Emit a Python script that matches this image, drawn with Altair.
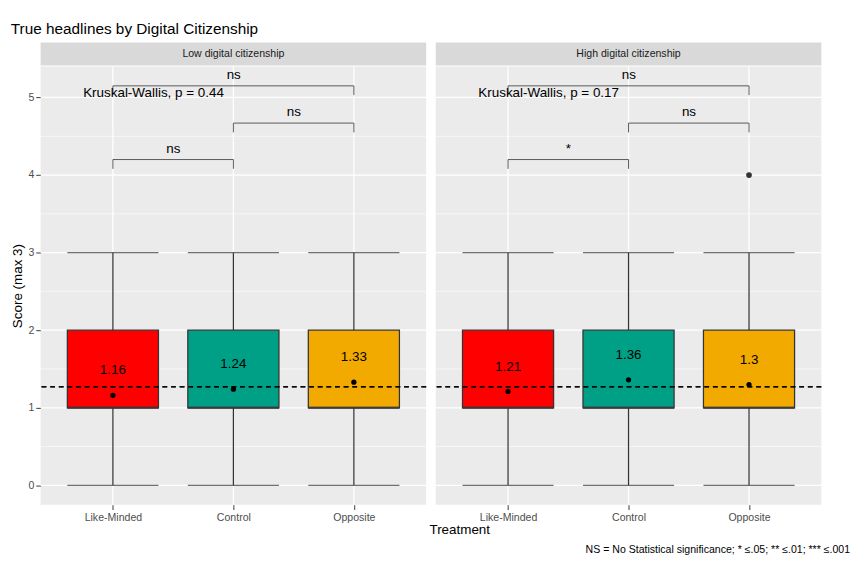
import altair as alt
import pandas as pd

treatments = ["Like-Minded", "Control", "Opposite"]
colors = ["#FF0000", "#00A087", "#F2AA00"]
panels = ["Low digital citizenship", "High digital citizenship"]
means = {"Low digital citizenship": [1.16, 1.24, 1.33],
         "High digital citizenship": [1.21, 1.36, 1.3]}
label_y = {"Low digital citizenship": [1.48, 1.56, 1.65],
           "High digital citizenship": [1.53, 1.68, 1.62]}
q1, med, q3, lo, hi = 1, 1, 2, 0, 3
outliers = {"Low digital citizenship": [], "High digital citizenship": [("Opposite", 4)]}
kw_p = {"Low digital citizenship": "0.44", "High digital citizenship": "0.17"}
brackets_from = ["Like-Minded", "Control", "Like-Minded"]
brackets_to = ["Control", "Opposite", "Opposite"]
brackets_y = [4.2, 4.67, 5.15]
bracket_labels = {"Low digital citizenship": ["ns", "ns", "ns"],
                  "High digital citizenship": ["*", "ns", "ns"]}
overall_mean = 1.27

FONT = "Liberation Sans"
W, H = 402, 457
xsc = alt.Scale(type="point", domain=treatments, padding=0.6)
ysc = alt.Scale(domain=[-0.25, 5.4], nice=False, zero=False)
PANEL_VIEW = alt.ViewConfig(fill="#EBEBEB", stroke=None)


def panel(name, first):
    d = pd.DataFrame({"t": treatments, "color": colors, "q1": q1, "med": med, "q3": q3,
                      "lo": lo, "hi": hi, "mean": means[name], "ly": label_y[name]})
    yaxis = alt.Axis(values=[0, 1, 2, 3, 4, 5], format="d", grid=False, domain=False, tickColor="#333",
                     labelColor="#4d4d4d", labelFontSize=11, title="Score (max 3)" if first else None,
                     titleFontSize=14, titleFontWeight="normal", titleColor="black",
                     labels=first, ticks=first)
    xaxis = alt.Axis(grid=False, domain=False, tickColor="#333",
                     labelColor="#4d4d4d", labelFontSize=11, labelAngle=0, title=None)
    base = alt.Chart(d)
    X = alt.X("t:N", scale=xsc, axis=xaxis, sort=treatments)

    grid = pd.DataFrame({"g": [i * 0.5 for i in range(11)]})
    grid["w"] = [1.3 if i % 2 == 0 else 0.6 for i in range(11)]
    gl = alt.Chart(grid).mark_rule(color="white").encode(
        y=alt.Y("g:Q", scale=ysc, axis=yaxis), strokeWidth=alt.StrokeWidth("w:Q", scale=None))
    vg = base.mark_rule(color="white", strokeWidth=1.3).encode(x=X)

    wl = base.mark_rule(color="#333", strokeWidth=1.3).encode(x=X, y=alt.Y("lo:Q", scale=ysc), y2="q1")
    wh = base.mark_rule(color="#333", strokeWidth=1.3).encode(x=X, y=alt.Y("q3:Q", scale=ysc), y2="hi")
    caps = alt.layer(
        base.mark_tick(orient="horizontal", size=95, thickness=1.3, color="#333").encode(x=X, y=alt.Y("lo:Q", scale=ysc)),
        base.mark_tick(orient="horizontal", size=95, thickness=1.3, color="#333").encode(x=X, y=alt.Y("hi:Q", scale=ysc)),
    )
    box = base.mark_bar(size=95, stroke="#333", strokeWidth=1.3).encode(
        x=X, y=alt.Y("q1:Q", scale=ysc), y2="q3", color=alt.Color("color:N", scale=None))
    medl = base.mark_tick(orient="horizontal", size=95, thickness=2.5, color="#333").encode(
        x=X, y=alt.Y("med:Q", scale=ysc))
    mpt = base.mark_circle(size=30, color="black", opacity=1).encode(x=X, y=alt.Y("mean:Q", scale=ysc))
    mtx = base.mark_text(fontSize=14, font=FONT, color="black").encode(
        x=X, y=alt.Y("ly:Q", scale=ysc), text=alt.Text("mean:Q"))
    hline = base.mark_rule(strokeDash=[5, 4], color="black", strokeWidth=1).encode(
        y=alt.datum(overall_mean, scale=ysc))

    layers = [gl, vg, wl, wh, caps, box, medl, mpt, mtx, hline]
    if outliers[name]:
        od = pd.DataFrame(outliers[name], columns=["t", "v"])
        layers.append(alt.Chart(od).mark_circle(size=35, color="#333", opacity=1).encode(
            x=alt.X("t:N", scale=xsc, sort=treatments), y=alt.Y("v:Q", scale=ysc)))

    bd = pd.DataFrame({"a": brackets_from, "b": brackets_to, "y": brackets_y,
                       "lab": bracket_labels[name]})
    bd["y0"] = bd["y"] - 0.12
    bd["mid"] = bd["y"] + 0.14
    bb = alt.Chart(bd)
    layers += [
        bb.mark_rule(color="#555").encode(x=alt.X("a:N", scale=xsc), x2="b:N", y=alt.Y("y:Q", scale=ysc)),
        bb.mark_rule(color="#555").encode(x=alt.X("a:N", scale=xsc), y=alt.Y("y0:Q", scale=ysc), y2="y"),
        bb.mark_rule(color="#555").encode(x=alt.X("b:N", scale=xsc), y=alt.Y("y0:Q", scale=ysc), y2="y"),
    ]
    # label sits at the middle of each bracket: half the span, in pixels
    for i, dx in enumerate([63, 63, 126]):
        layers.append(alt.Chart(bd.iloc[[i]]).mark_text(fontSize=14, font=FONT, color="black", dx=dx).encode(
            x=alt.X("a:N", scale=xsc), y=alt.Y("mid:Q", scale=ysc), text="lab:N"))
    kd = pd.DataFrame({"t": ["Like-Minded"], "y": [5.05], "lab": ["Kruskal-Wallis, p = " + kw_p[name]]})
    layers.append(alt.Chart(kd).mark_text(fontSize=14, font=FONT, color="black", align="left", dx=-31).encode(
        x=alt.X("t:N", scale=xsc), y=alt.Y("y:Q", scale=ysc), text="lab:N"))

    body = alt.layer(*layers).properties(width=W, height=H, view=PANEL_VIEW)
    strip = alt.Chart(pd.DataFrame({"p": [name]})).mark_text(fontSize=11, font=FONT, color="#1a1a1a").encode(
        text="p:N").properties(width=W, height=24, view=alt.ViewConfig(fill="#D9D9D9", stroke=None))
    return alt.vconcat(strip, body, spacing=0)


left = panel(panels[0], True)
right = panel(panels[1], False)
top = alt.hconcat(left, right, spacing=8)

footer = alt.layer(
    alt.Chart(pd.DataFrame({"t": ["Treatment"]})).mark_text(fontSize=14, font=FONT, color="black").encode(
        x=alt.value(437), y=alt.value(2), text="t:N"),
    alt.Chart(pd.DataFrame({"t": ["NS = No Statistical significance; * \u2264.05; ** \u2264.01; *** \u2264.001"]})).mark_text(
        fontSize=11, font=FONT, color="black", align="right").encode(
        x=alt.value(844), y=alt.value(22), text="t:N"),
).properties(width=844, height=26, view=alt.ViewConfig(stroke=None, fill=None))

chart = alt.vconcat(top, footer, spacing=2).properties(
    title=alt.TitleParams("True headlines by Digital Citizenship", anchor="start", fontSize=16,
                          fontWeight="normal", font=FONT, color="black", offset=6)
).configure_view(stroke=None).configure_axis(
    labelFont=FONT, titleFont=FONT).configure(padding=2)

chart.save("out.html", embed_options={"renderer": "svg", "actions": False})
